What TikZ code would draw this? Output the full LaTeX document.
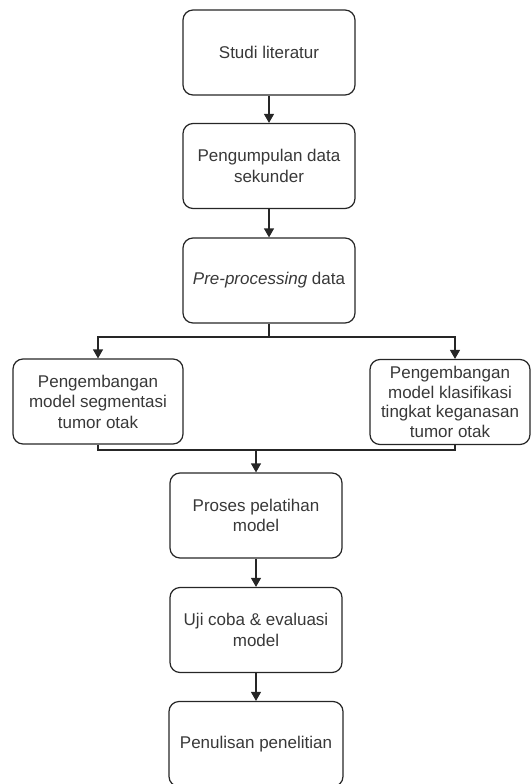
\documentclass[tikz,border=0pt]{standalone}
\usepackage{fontspec}
\setmainfont{Liberation Sans}
\usetikzlibrary{arrows.meta}
\begin{document}
\begin{tikzpicture}[x=1pt,y=-1pt,
  box/.style={draw=black!85, line width=1.2pt, rounded corners=10pt, align=center,
    font=\fontsize{17}{20.5}\selectfont, text=black!78, inner sep=0pt,
    minimum height=85pt},
  arr/.style={draw=black!85, line width=1.2pt, -{Triangle[width=10pt,length=9pt]}},
  ln/.style={draw=black!85, line width=1.2pt}]
\useasboundingbox (0,0) rectangle (531,784);
\node[box, minimum width=172pt] (b1) at (269,52.5) {Studi literatur};
\node[box, minimum width=172pt] (b2) at (269,166) {Pengumpulan data\\sekunder};
\node[box, minimum width=172pt] (b3) at (269,280.5) {\textit{Pre-processing} data};
\node[box, minimum width=170pt] (L) at (98,401.5) {Pengembangan\\model segmentasi\\tumor otak};
\node[box, minimum width=160pt, font=\fontsize{17}{19.5}\selectfont] (R) at (450,402) {Pengembangan\\model klasifikasi\\tingkat keganasan\\tumor otak};
\node[box, minimum width=172pt] (b4) at (256,515.5) {Proses pelatihan\\model};
\node[box, minimum width=172pt] (b5) at (256,630) {Uji coba \& evaluasi\\model};
\node[box, minimum width=174pt] (b6) at (256,744) {Penulisan penelitian};
\coordinate (br) at (269,337);
\coordinate (mg) at (256,450);
\coordinate (rt) at ([xshift=5pt]R.north);
\coordinate (rb) at ([xshift=5pt]R.south);
\draw[arr] (b1.south) -- (b2.north);
\draw[arr] (b2.south) -- (b3.north);
\draw[ln] (b3.south) -- (br);
\draw[arr] (br) -| (L.north);
\draw[arr] (br) -| (rt);
\draw[ln] (L.south) |- (mg);
\draw[ln] (rb) |- (mg);
\draw[arr] (mg) -- (b4.north);
\draw[arr] (b4.south) -- (b5.north);
\draw[arr] (b5.south) -- (b6.north);
\end{tikzpicture}
\end{document}
